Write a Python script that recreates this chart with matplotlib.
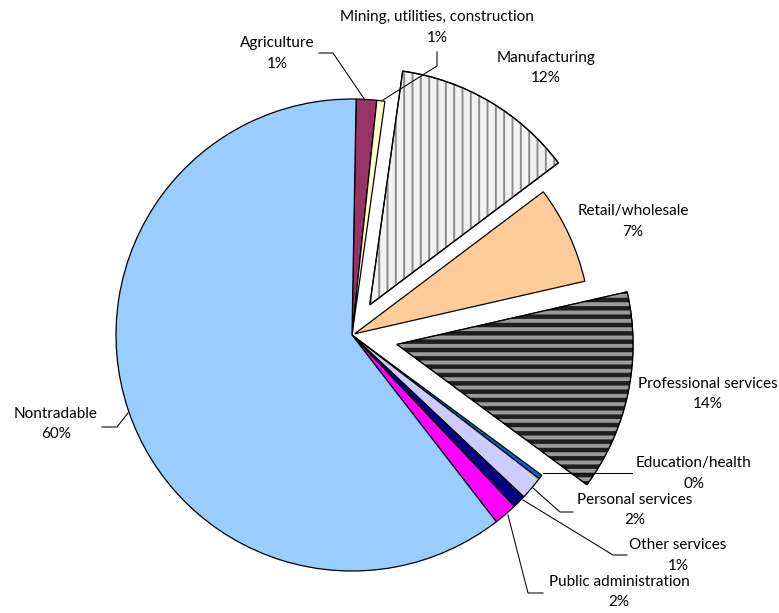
import matplotlib
matplotlib.use("Agg")
import matplotlib.pyplot as plt
from matplotlib.patches import Wedge

# sectors, clockwise from 12 o'clock
sectors = ["Agriculture", "Mining, utilities, construction", "Manufacturing",
           "Retail/wholesale", "Professional services", "Education/health",
           "Personal services", "Other services", "Public administration",
           "Nontradable"]
shares = [1.4, 0.55, 12.5, 6.7, 13.7, 0.3, 1.6, 0.9, 1.6, 60.75]
pct_labels = ["1%", "1%", "12%", "7%", "14%", "0%", "2%", "1%", "2%", "60%"]
colors = ["#993366", "#FFFFCC", "#F2F2F2", "#FFCC99", "#1E1E1E", "#0066CC",
          "#CCCCFF", "#000080", "#FF00FF", "#99CCFF"]
explode = [0, 0, 35, 3, 46, 0, 0, 0, 0, 0]

W, H = 779, 613
fig = plt.figure(figsize=(W / 100, H / 100), dpi=100)
ax = fig.add_axes([0, 0, 1, 1])

wedges, _ = ax.pie(shares, colors=colors, explode=explode, startangle=89,
                   counterclock=False, center=(352, H - 335), radius=236,
                   wedgeprops=dict(edgecolor="black", linewidth=0.9))

ax.set_xlim(0, W)
ax.set_ylim(0, H)
ax.set_aspect("equal")
ax.axis("off")


def add_hatch(w, hatch, hcolor, hlw):
    p = Wedge(w.center, w.r, w.theta1, w.theta2, facecolor="none",
              edgecolor=hcolor, hatch=hatch, linewidth=0, zorder=w.get_zorder() + 0.1)
    if hasattr(p, "set_hatch_linewidth"):
        p.set_hatch_linewidth(hlw)
    ax.add_patch(p)
    outline = Wedge(w.center, w.r, w.theta1, w.theta2, fill=False,
                    edgecolor="black", linewidth=0.9, zorder=w.get_zorder() + 0.2)
    ax.add_patch(outline)


add_hatch(wedges[2], "||", "#8C8C8C", 1.4)
add_hatch(wedges[4], "--", "#9A9A9A", 2.8)

# label positions (pixels from top-left) and leader lines
label_pos = {
    "Agriculture": (277, 43),
    "Mining, utilities, construction": (437, 17),
    "Manufacturing": (546, 58),
    "Retail/wholesale": (633, 211),
    "Professional services": (708, 384),
    "Education/health": (694, 463),
    "Personal services": (635, 500),
    "Other services": (678, 545),
    "Public administration": (619, 582),
    "Nontradable": (56, 414),
}
leaders = {
    "Agriculture": [(319, 53), (333, 53), (365, 100)],
    "Mining, utilities, construction": [(437, 52), (437, 66), (383, 100)],
    "Education/health": [(632, 473), (543, 473)],
    "Personal services": [(573, 512), (560, 512), (533, 488)],
    "Other services": [(627, 555), (613, 555), (523, 500)],
    "Public administration": [(543, 593), (528, 593), (508, 515)],
    "Nontradable": [(102, 427), (117, 427), (128, 413)],
}

font = dict(family="Lato", fontsize=11, color="black")
for name, pct in zip(sectors, pct_labels):
    x, y = label_pos[name]
    ax.text(x, H - y, name, ha="center", va="center", **font)
    ax.text(x, H - y - 20.5, pct, ha="center", va="center", **font)
    if name in leaders:
        xs = [p[0] for p in leaders[name]]
        ys = [H - p[1] for p in leaders[name]]
        ax.plot(xs, ys, color="black", linewidth=0.75, zorder=5)

fig.savefig("out.png", dpi=100)
